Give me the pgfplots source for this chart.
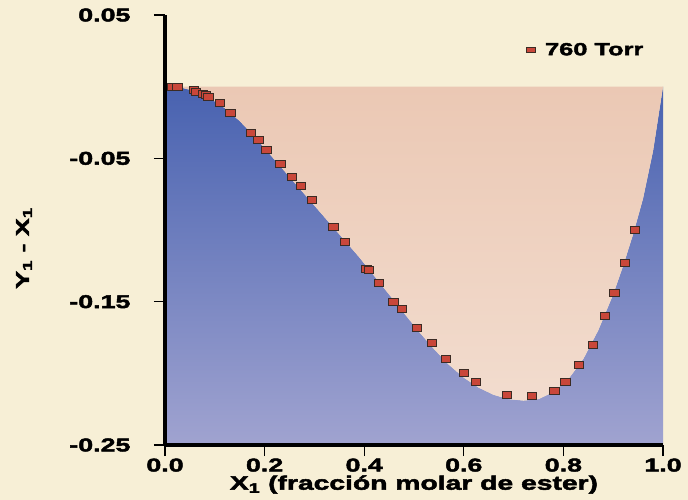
\documentclass[border=0pt]{standalone}
\usepackage{fontspec}
\setmainfont{Liberation Sans}[BoldFeatures={FakeBold=2.5,FakeStretch=1.45}]
\usepackage{pgfplots}
\pgfplotsset{compat=1.18}
\definecolor{cream}{HTML}{F7EFD6}
\definecolor{peachtop}{HTML}{EBC8B4}
\definecolor{peachbot}{HTML}{F2DCCE}
\definecolor{bluetop}{HTML}{4862B0}
\definecolor{bluebot}{HTML}{A0A3D0}
\definecolor{markred}{HTML}{C9473A}
\definecolor{markdark}{HTML}{3B2B24}
\pgfplotstableread{
x y
0.000 0.000
0.03 -0.0005
0.06 -0.003
0.09 -0.008
0.12 -0.015
0.15 -0.024
0.18 -0.035
0.21 -0.047
0.24 -0.059
0.27 -0.071
0.30 -0.083
0.33 -0.095
0.36 -0.107
0.39 -0.119
0.42 -0.132
0.45 -0.145
0.48 -0.158
0.51 -0.171
0.54 -0.183
0.57 -0.194
0.60 -0.203
0.63 -0.210
0.66 -0.215
0.69 -0.218
0.72 -0.219
0.75 -0.218
0.78 -0.213
0.81 -0.204
0.84 -0.190
0.87 -0.170
0.90 -0.145
0.92 -0.125
0.94 -0.103
0.96 -0.078
0.98 -0.045
1.00 0.000
}\curvetab
\pgfplotstableread{
x y
0.015 0.000
0.025 0.000
0.058 -0.002
0.062 -0.004
0.076 -0.005
0.082 -0.006
0.087 -0.007
0.110 -0.011
0.131 -0.018
0.172 -0.032
0.188 -0.037
0.204 -0.044
0.232 -0.054
0.255 -0.063
0.273 -0.069
0.295 -0.079
0.338 -0.098
0.361 -0.108
0.404 -0.127
0.409 -0.128
0.429 -0.137
0.459 -0.150
0.476 -0.155
0.506 -0.168
0.536 -0.179
0.564 -0.190
0.600 -0.200
0.624 -0.206
0.687 -0.215
0.737 -0.216
0.782 -0.212
0.804 -0.206
0.831 -0.194
0.859 -0.180
0.883 -0.160
0.902 -0.144
0.924 -0.123
0.944 -0.100
}\pointtab
\begin{document}
\begin{tikzpicture}
\fill[cream] (-165pt,-55pt) rectangle (523pt,445pt);
\begin{axis}[
  scale only axis, width=498pt, height=430pt,
  xmin=0, xmax=1, ymin=-0.25, ymax=0.05,
  axis x line*=bottom, axis y line*=left,
  axis line style={line width=3.5pt, black},
  axis on top,
  xtick={0,0.2,0.4,0.6,0.8,1.0},
  xticklabels={0.0,0.2,0.4,0.6,0.8,1.0},
  ytick={-0.25,-0.15,-0.05,0.05},
  yticklabels={-0.25,-0.15,-0.05,0.05},
  tick align=outside, major tick length=11pt,
  tick style={black, line width=1.2pt},
  every tick label/.append style={font=\fontsize{18.5}{18.5}\selectfont\bfseries},
  xticklabel style={yshift=1pt},
  yticklabel style={xshift=-20pt},
  xlabel={\bfseries X\textsubscript{1} (fracción molar de ester)},
  ylabel={\bfseries Y\textsubscript{1} - X\textsubscript{1}},
  xlabel style={font=\fontsize{19.5}{19.5}\selectfont, at={(axis description cs:0.5,-0.092)}, anchor=center},
  ylabel style={font=\fontsize{18.5}{18.5}\selectfont, at={(axis description cs:-0.283,0.458)}, anchor=center},
  legend style={draw=none, fill=none, at={(0.965,0.94)}, anchor=north east,
    font=\fontsize{17.5}{17.5}\selectfont\bfseries, inner sep=0pt},
  legend image code/.code={
    \fill[markred, draw=markdark, line width=0.6pt] (0pt,-2.8pt) rectangle (9pt,2.8pt);
  },
]
\addplot[forget plot, draw=none, top color=bluetop, bottom color=bluebot]
  table[x=x,y=y]{\curvetab} -- (axis cs:1,-0.25) -- (axis cs:0,-0.25) -- cycle;
\addplot[forget plot, draw=none, top color=peachtop, bottom color=peachbot]
  table[x=x,y=y]{\curvetab} -- cycle;
\addplot[only marks, mark=square*, mark size=3.5pt,
  mark options={xscale=1.35, fill=markred, draw=markdark, line width=0.8pt}]
  table[x=x,y=y]{\pointtab};
\addlegendentry{\hspace{8pt}760 Torr}
\end{axis}
\pgfresetboundingbox
\path (-165pt,-55pt) rectangle (523pt,445pt);
\end{tikzpicture}
\end{document}
